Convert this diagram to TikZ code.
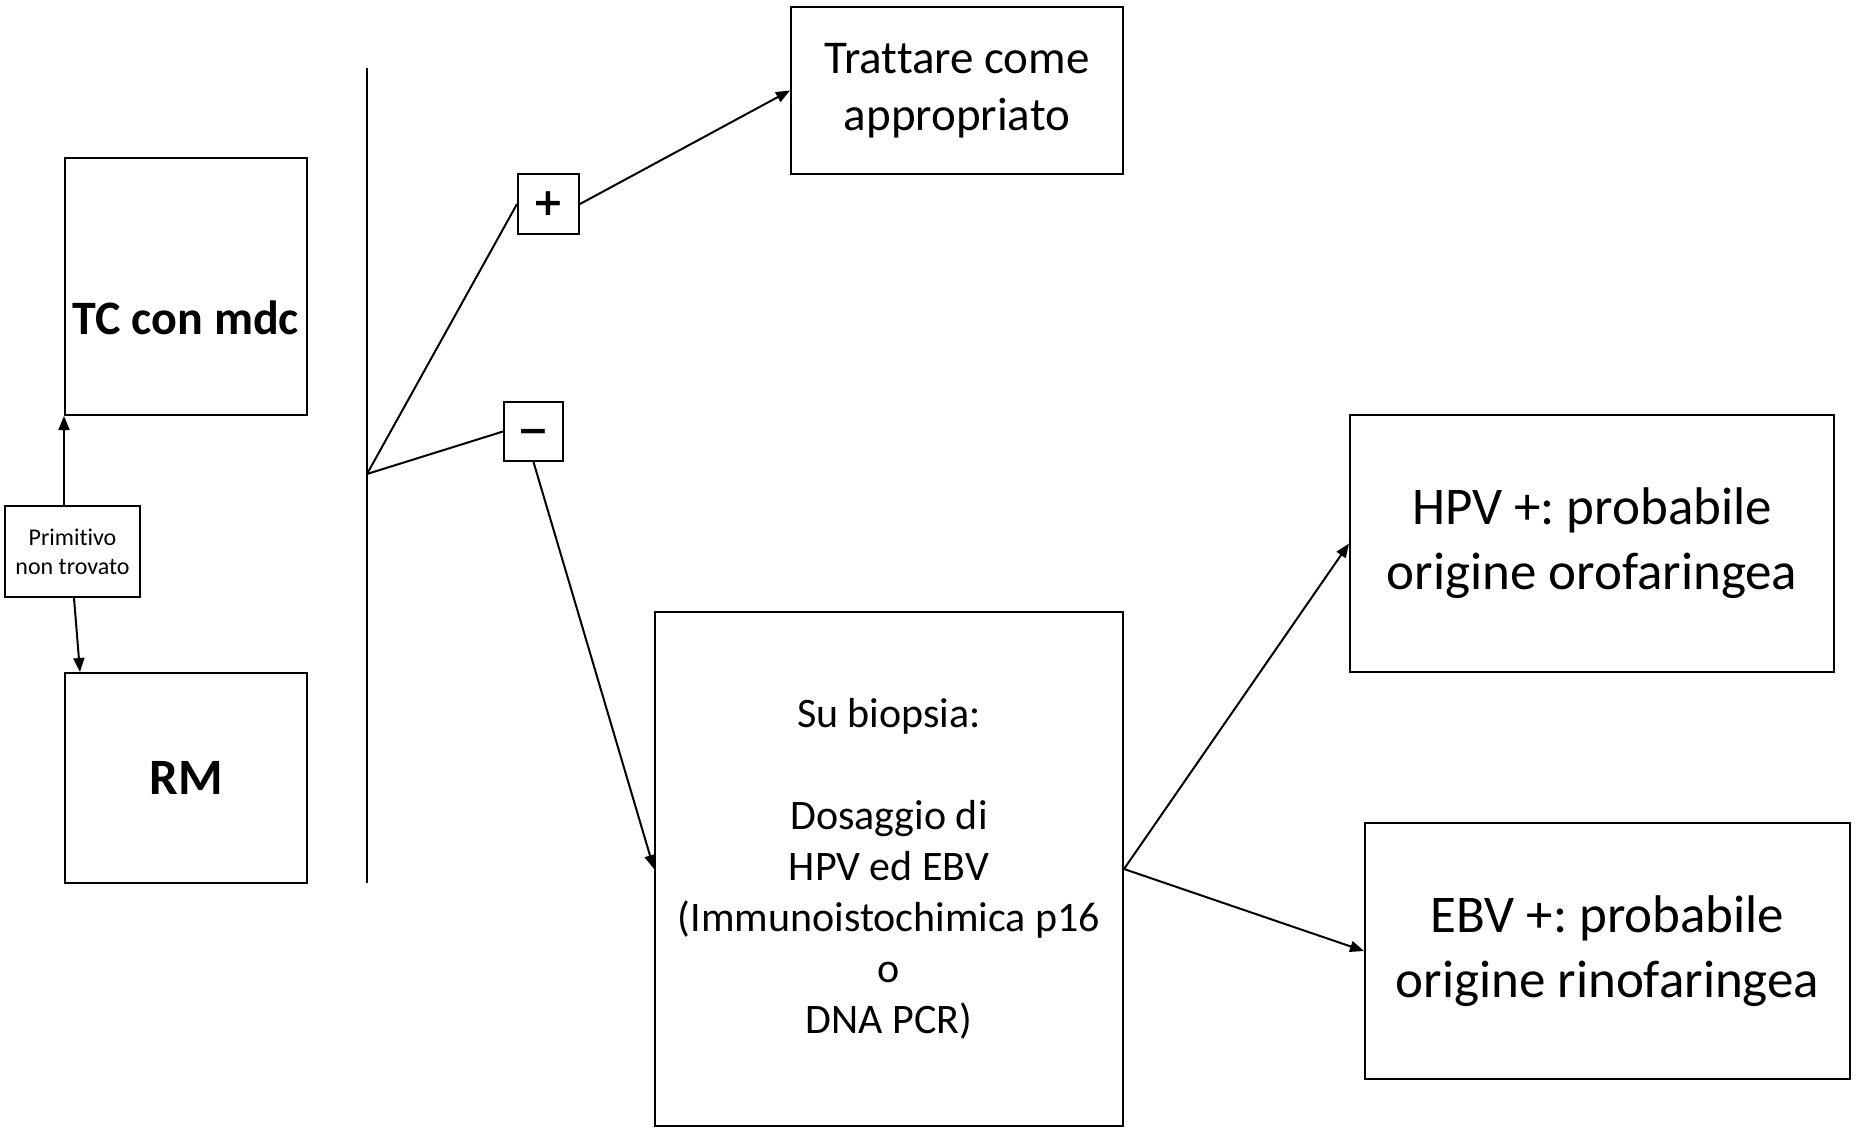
\documentclass[tikz,border=0pt]{standalone}
\usepackage{fontspec}
\setmainfont[Ligatures={TeX,NoCommon}]{Carlito}
\newfontfamily\signfont{DejaVu Sans}
\frenchspacing
\usetikzlibrary{arrows.meta,calc}
\begin{document}
\begin{tikzpicture}[x=1pt,y=-1pt,
  box/.style={draw,line width=2pt,rectangle,inner sep=0pt,align=center},
  arr/.style={line width=2pt,-{Triangle[length=14pt,width=11pt]}},
  conn/.style={line width=2pt},
  big/.style={font=\fontsize{53}{65}\selectfont},
  mid/.style={font=\fontsize{47}{57}\selectfont},
  small/.style={font=\fontsize{42}{51}\selectfont},
  tiny/.style={font=\fontsize{24}{29}\selectfont},
  heavy/.style={font=\fontsize{48}{58}\selectfont\bfseries},
  sign/.style={font=\signfont\bfseries\fontsize{38}{46}\selectfont}]
\useasboundingbox (0,0) rectangle (1864,1132);

% left column: imaging
\node[box,minimum width=242pt,minimum height=257pt] (tc) at (186,286.5) {};
\node[heavy,anchor=center] (tctext) at (186,318) {TC con mdc};
\node[box,tiny,minimum width=135pt,minimum height=91pt] (prim) at (72.5,551.5) {Primitivo\\non trovato};
\node[box,font=\fontsize{51}{60}\selectfont\bfseries,minimum width=242pt,minimum height=210pt] (rm) at (186,778) {RM};

% separator and branch point
\coordinate (vtop) at (367,68);
\coordinate (vbot) at (367,883);
\coordinate (fork) at (367,474);
\draw[conn] (vtop) -- (vbot);

% outcome signs
\node[box,sign,minimum width=61pt,minimum height=60pt] (plus) at (548.5,204) {\raisebox{-3pt}{+}};
\node[box,sign,minimum width=59pt,minimum height=59pt] (minus) at (533.5,431.5) {\raisebox{-3pt}{\vphantom{+}−}};

% result boxes
\node[box,mid,minimum width=332pt,minimum height=167pt] (treat) at (957,90.5) {Trattare come\\appropriato};
\node[box,small,minimum width=468pt,minimum height=514pt] (biopsy) at (889,869)
  {Su biopsia:\\[51pt]Dosaggio di\\HPV ed EBV\\(Immunoistochimica p16\\o\\DNA PCR)};
\node[box,big,minimum width=484pt,minimum height=257pt] (hpv) at (1592,543.5) {HPV +: probabile\\origine orofaringea};
\node[box,big,minimum width=485pt,minimum height=256pt] (ebv) at (1607.5,951) {EBV +: probabile\\origine rinofaringea};

% connectors
\draw[arr] (prim.north -| tc.south west) -- (tc.south west);
\draw[arr] ([xshift=1.5pt]prim.south) -- ([xshift=16pt]rm.north west);
\draw[conn] (fork) -- (plus.west);
\draw[conn] (fork) -- (minus.west);
\draw[arr] (plus.east) -- (treat.west);
\draw[arr] (minus.south) -- (biopsy.west);
\draw[arr] (biopsy.east) -- (hpv.west);
\draw[arr] (biopsy.east) -- (ebv.west);
\end{tikzpicture}
\end{document}
